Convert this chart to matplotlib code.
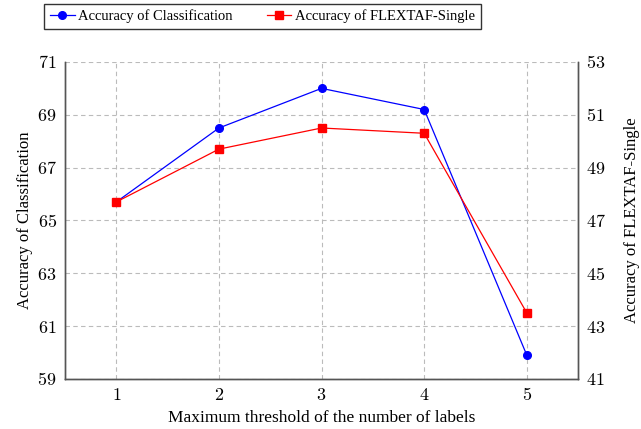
import matplotlib.pyplot as plt

plt.rcParams['font.family'] = ['Liberation Serif', 'DejaVu Serif']
plt.rcParams['mathtext.fontset'] = 'cm'

# Data
thresholds = [1, 2, 3, 4, 5]
acc_classification = [65.7, 68.5, 70.0, 69.2, 59.9]
acc_flextaf = [47.7, 49.7, 50.5, 50.3, 43.5]
left_ticks = [59, 61, 63, 65, 67, 69, 71]
right_ticks = [41, 43, 45, 47, 49, 51, 53]

fig = plt.figure(figsize=(6.41, 4.29), dpi=100)
ax = fig.add_axes([0.1014, 0.1166, 0.8005, 0.739])
ax2 = ax.twinx()

l1, = ax.plot(thresholds, acc_classification, color='blue', marker='o',
              markersize=5.5, linewidth=0.9, label='Accuracy of Classification')
l2, = ax2.plot(thresholds, acc_flextaf, color='red', marker='s',
               markersize=5.5, linewidth=0.9, label='Accuracy of FLEXTAF-Single')

ax.set_xlim(0.5, 5.5)
ax.set_ylim(59, 71)
ax2.set_ylim(41, 53)
ax.set_xticks(thresholds)
ax.set_xticklabels([f'${t}$' for t in thresholds], fontsize=13)
ax.set_yticks(left_ticks)
ax.set_yticklabels([f'${t}$' for t in left_ticks], fontsize=13)
ax2.set_yticks(right_ticks)
ax2.set_yticklabels([f'${t}$' for t in right_ticks], fontsize=13)

ax.grid(True, color='#bbbbbb', linestyle=(0, (4, 3)), linewidth=0.8)
ax.set_axisbelow(True)
for a in (ax, ax2):
    a.tick_params(length=0, pad=6)
    a.spines['top'].set_visible(False)
    for s in ('left', 'right', 'bottom'):
        a.spines[s].set_color('#555555')
        a.spines[s].set_linewidth(1.0)

ax.set_xlabel('Maximum threshold of the number of labels', fontsize=12.5, labelpad=4)
ax.set_ylabel('Accuracy of Classification', fontsize=12, labelpad=3)
ax2.set_ylabel('Accuracy of FLEXTAF-Single', fontsize=12, labelpad=13)

leg = fig.legend(handles=[l1, l2], loc='center', bbox_to_anchor=(0.4095, 0.9615),
                 ncol=2, fontsize=10.5, frameon=True, fancybox=False,
                 edgecolor='black', handlelength=1.7, columnspacing=2.3,
                 borderpad=0.4, handletextpad=0.25)
leg.get_frame().set_linewidth(1.0)

fig.savefig('out.png', dpi=100)
